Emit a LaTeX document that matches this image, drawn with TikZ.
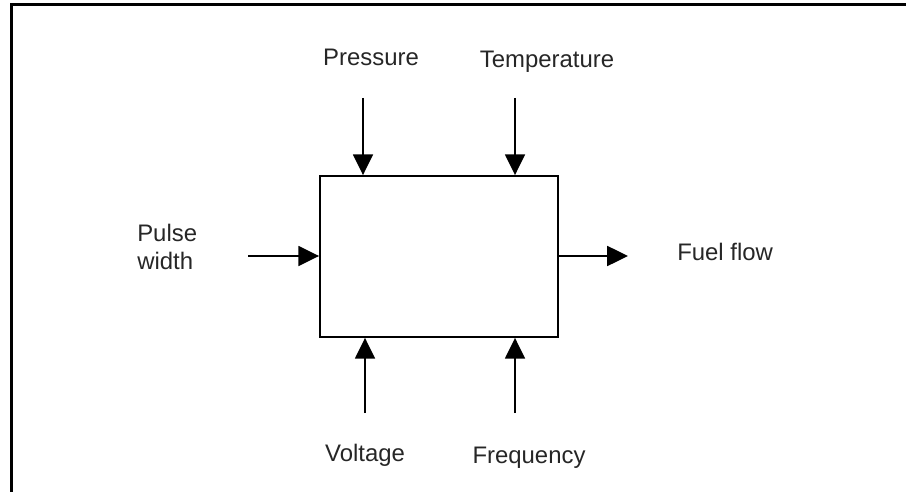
\documentclass[tikz,border=0pt]{standalone}
\usepackage{fontspec}
\setmainfont{Liberation Sans}
\usetikzlibrary{arrows.meta}

\begin{document}
\begin{tikzpicture}[
    x=0.025cm, y=-0.025cm,
    frameline/.style={draw=black, line width=0.07cm},
    blockbox/.style={draw=black, line width=0.045cm, minimum width=5.95cm, minimum height=4.025cm, inner sep=0pt},
    signal/.style={draw=black, line width=0.045cm, -{Triangle[length=0.52cm, width=0.5cm]}},
    label/.style={font=\fontsize{17}{19}\selectfont, text=black!85, inner sep=0pt}
]

% ================================================================
% Rahmen (nur links und oben sichtbar)
% ================================================================
\useasboundingbox (0,0) rectangle (906,492);
\draw[frameline] (11.5,495) -- (11.5,4.5) -- (910,4.5);

% ================================================================
% Block
% ================================================================
\node[blockbox] (injector) at (439,256.5) {};

% Freie Enden der Pfeile
\coordinate (p_top) at (363,98);
\coordinate (t_top) at (515,98);
\coordinate (v_bot) at (365,413);
\coordinate (f_bot) at (515,413);
\coordinate (pw_in) at (248,256);
\coordinate (ff_out) at (628,256);

% Eingaenge oben
\draw[signal] (p_top) -- (p_top |- injector.north);
\draw[signal] (t_top) -- (t_top |- injector.north);

% Eingaenge unten
\draw[signal] (v_bot) -- (v_bot |- injector.south);
\draw[signal] (f_bot) -- (f_bot |- injector.south);

% Eingang links, Ausgang rechts
\draw[signal] (pw_in) -- (pw_in -| injector.west);
\draw[signal] (injector.east |- ff_out) -- (ff_out);

% ================================================================
% Beschriftungen
% ================================================================
\node[label] (lbl_press) at (371,57) {Pressure};
\node[label] (lbl_temp) at (547,62) {Temperature};
\node[label, align=left, anchor=west] (lbl_pulse) at (137,247) {Pulse\\[1pt]width};
\node[label, anchor=west] (lbl_fuel) at (677,252) {Fuel flow};
\node[label] (lbl_volt) at (365,455) {Voltage};
\node[label] (lbl_freq) at (529,458) {Frequency};

\end{tikzpicture}
\end{document}
